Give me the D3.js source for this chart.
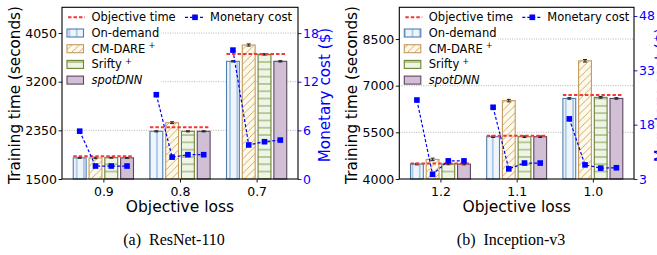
<!DOCTYPE html>
<html>
<head>
<meta charset="utf-8">
<script src="https://cdn.jsdelivr.net/npm/d3@7"></script>
<style>
  body { margin: 0; background: #fff; }
  svg { display: block; }
</style>
</head>
<body>
<svg id="chart" width="657" height="255"></svg>
<script>
// series names (trailing + is drawn as superscript)
const seriesNames = ['On-demand', 'CM-DARE+', 'Srifty+', 'spotDNN'];

// (a) ResNet-110
const lossA = ['0.9', '0.8', '0.7'];
const objTimeA = [1897, 2403, 3684];
const onDemandTimeA = [1870, 2333, 3556];
const cmDareTimeA = [1868, 2484, 3841];
const sriftyTimeA = [1872, 2333, 3678];
const spotDnnTimeA = [1870, 2333, 3556];
const onDemandCostA = [5.9, 10.4, 15.9];
const cmDareCostA = [1.6, 2.7, 4.2];
const sriftyCostA = [1.6, 3.0, 4.6];
const spotDnnCostA = [1.6, 3.0, 4.8];
const errA = [8, 10, 12];
const timeTicksA = [1500, 2350, 3200, 4050];
const costTicksA = [0, 6, 12, 18];

// (b) Inception-v3
const lossB = ['1.2', '1.1', '1.0'];
const objTimeB = [4500, 5390, 6700];
const onDemandTimeB = [4480, 5360, 6590];
const cmDareTimeB = [4630, 6520, 7800];
const sriftyTimeB = [4485, 5360, 6625];
const spotDnnTimeB = [4480, 5360, 6590];
const onDemandCostB = [24.8, 22.8, 19.6];
const cmDareCostB = [4.3, 5.8, 6.9];
const sriftyCostB = [8.0, 7.4, 6.0];
const spotDnnCostB = [8.0, 7.4, 6.1];
const errB = [25, 25, 25];
const timeTicksB = [4000, 5500, 7000, 8500];
const costTicksB = [3, 18, 33, 48];

const svg = d3.select('#chart');
svg.append('rect').attr('width', 657).attr('height', 255).attr('fill', '#fff');
const defs = svg.append('defs');
const FONT = 'DejaVu Sans, sans-serif';
const BLUE = '#0000ff';

// hatch patterns, matplotlib-like
function hatch(id, bg, stroke, kind) {
  const s = 7.3;
  const p = defs.append('pattern').attr('id', id)
    .attr('patternUnits', 'userSpaceOnUse').attr('width', s).attr('height', s);
  p.append('rect').attr('width', s).attr('height', s).attr('fill', bg);
  let d = null;
  if (kind === 'v') d = `M${s / 2},0V${s}`;
  if (kind === 'h') d = `M0,${s / 2}H${s}`;
  if (kind === 'd') d = `M0,${s}L${s},0M-1,1L1,-1M${s - 1},${s + 1}L${s + 1},${s - 1}`;
  if (d) p.append('path').attr('d', d).attr('stroke', stroke).attr('stroke-width', 0.9).attr('fill', 'none');
}
hatch('pOn', '#eef5fc', '#6f9ccb', 'v');
hatch('pCm', '#fdfaea', '#c9a066', 'd');
hatch('pSr', '#edf5e7', '#7f913e', 'h');
hatch('pSp', '#d1bfd5', null, null);

const styles = [
  { fill: 'url(#pOn)', edge: '#4f7fae' },
  { fill: 'url(#pCm)', edge: '#c39a5e' },
  { fill: 'url(#pSr)', edge: '#6f8030' },
  { fill: 'url(#pSp)', edge: '#5e4561' }
];

function label(sel, name) {
  if (name.endsWith('+')) {
    sel.text(name.slice(0, -1));
    sel.append('tspan').attr('dx', 3).attr('dy', '-0.45em').attr('font-size', '0.72em').text('+');
  } else {
    sel.text(name).attr('font-style', name === 'spotDNN' ? 'italic' : null);
  }
}

function drawPanel(p) {
  const top = 7.3, bottom = 179;
  const g = svg.append('g');
  const x = d3.scalePoint().domain(p.loss).range([p.left, p.right]).padding(0.54);
  const step = x.step();
  const bs = step * 0.206, bw = step * 0.168;
  const y = d3.scaleLinear().domain(p.timeDomain).range([bottom, top]);
  const yc = d3.scaleLinear().domain(p.costDomain).range([bottom, top]);

  // grid
  g.selectAll('.grid').data(p.timeTicks.slice(1)).join('line')
    .attr('x1', p.left).attr('x2', p.right)
    .attr('y1', d => y(d)).attr('y2', d => y(d))
    .attr('stroke', '#b5b5b5').attr('stroke-width', 1).attr('stroke-dasharray', '1,1.4');

  // bars + error bars
  p.times.forEach((vals, si) => {
    const cx = i => x(p.loss[i]) + (si - 1.5) * bs;
    g.append('g').selectAll('rect').data(vals).join('rect')
      .attr('x', (d, i) => cx(i) - bw / 2).attr('y', d => y(d))
      .attr('width', bw).attr('height', d => bottom - y(d))
      .attr('fill', styles[si].fill).attr('stroke', styles[si].edge).attr('stroke-width', 1.1);
    const eb = g.append('g').attr('stroke', '#222').attr('stroke-width', 1);
    vals.forEach((d, i) => {
      const e = p.err[i] * (si === 1 ? 1.6 : 1);
      eb.append('line').attr('x1', cx(i)).attr('x2', cx(i)).attr('y1', y(d - e)).attr('y2', y(d + e));
      eb.append('line').attr('x1', cx(i) - 2).attr('x2', cx(i) + 2).attr('y1', y(d - e)).attr('y2', y(d - e));
      eb.append('line').attr('x1', cx(i) - 2).attr('x2', cx(i) + 2).attr('y1', y(d + e)).attr('y2', y(d + e));
    });
  });

  // objective time
  g.selectAll('.obj').data(p.objTime).join('line')
    .attr('x1', (d, i) => x(p.loss[i]) - 1.5 * bs - bw / 2)
    .attr('x2', (d, i) => x(p.loss[i]) + 1.5 * bs + bw / 2)
    .attr('y1', d => y(d)).attr('y2', d => y(d))
    .attr('stroke', '#f03a3a').attr('stroke-width', 2).attr('stroke-dasharray', '3.5,2');

  // monetary cost, one dashed line per group
  const line = d3.line().x(d => d[0]).y(d => d[1]);
  p.loss.forEach((l, i) => {
    const pts = p.costs.map((c, si) => [x(l) + (si - 1.5) * bs, yc(c[i])]);
    g.append('path').attr('d', line(pts)).attr('fill', 'none')
      .attr('stroke', BLUE).attr('stroke-width', 1.2).attr('stroke-dasharray', '3,2');
    g.selectAll(null).data(pts).join('rect')
      .attr('x', d => d[0] - 2.8).attr('y', d => d[1] - 2.8)
      .attr('width', 5.6).attr('height', 5.6).attr('fill', BLUE);
  });

  // axes
  const ax = svg.append('g').attr('font-family', FONT);
  const la = ax.append('g').attr('transform', `translate(${p.left},0)`)
    .call(d3.axisLeft(y).tickValues(p.timeTicks).tickFormat(d3.format('d')).tickSize(3.5).tickPadding(1.5));
  const ra = ax.append('g').attr('transform', `translate(${p.right},0)`)
    .call(d3.axisRight(yc).tickValues(p.costTicks).tickFormat(d3.format('d')).tickSize(3.5).tickPadding(1.5));
  const ba = ax.append('g').attr('transform', `translate(0,${bottom})`)
    .call(d3.axisBottom(x).tickSize(3.5).tickPadding(4.5));
  [la, ra, ba].forEach(a => {
    a.select('.domain').remove();
    a.selectAll('text').attr('font-size', 12.5).attr('font-family', FONT).attr('fill', '#000');
    a.selectAll('line').attr('stroke', '#000').attr('stroke-width', 0.9);
  });
  ra.selectAll('text').attr('fill', BLUE);
  ra.selectAll('line').attr('stroke', BLUE);

  // frame
  svg.append('rect').attr('x', p.left).attr('y', top)
    .attr('width', p.right - p.left).attr('height', bottom - top)
    .attr('fill', 'none').attr('stroke', '#000').attr('stroke-width', 1.1);

  // axis labels
  svg.append('text').attr('transform', `translate(${p.left - 47},95) rotate(-90)`)
    .attr('text-anchor', 'middle').attr('dominant-baseline', 'central')
    .attr('font-family', FONT).attr('font-size', 15.2).text('Training time (seconds)');
  svg.append('text').attr('transform', `translate(${p.right + 27},95) rotate(-90)`)
    .attr('text-anchor', 'middle').attr('dominant-baseline', 'central')
    .attr('font-family', FONT).attr('font-size', 15.2).attr('fill', BLUE).text('Monetary cost ($)');
  svg.append('text').attr('x', (p.left + p.right) / 2).attr('y', 207)
    .attr('text-anchor', 'middle').attr('dominant-baseline', 'central')
    .attr('font-family', FONT).attr('font-size', 15.5).text('Objective loss');
  svg.append('text').attr('x', p.capX).attr('y', 239)
    .attr('text-anchor', 'middle').attr('dominant-baseline', 'central')
    .attr('font-family', 'Liberation Serif, serif').attr('font-size', 16).attr('xml:space', 'preserve')
    .text(p.caption);

  // legend
  const lg = svg.append('g').attr('font-family', FONT).attr('font-size', 11.5);
  lg.append('rect').attr('x', p.left + 1).attr('y', 24.5).attr('width', 98).attr('height', 60.5).attr('fill', '#fff');
  const rowY = i => 17.3 + i * 15.7;
  lg.append('line').attr('x1', p.left + 6).attr('x2', p.left + 23).attr('y1', rowY(0)).attr('y2', rowY(0))
    .attr('stroke', '#f03a3a').attr('stroke-width', 2).attr('stroke-dasharray', '3.5,2');
  lg.append('text').attr('x', p.left + 29.5).attr('y', rowY(0)).attr('dominant-baseline', 'central').text('Objective time');
  lg.append('line').attr('x1', p.left + 123).attr('x2', p.left + 143).attr('y1', rowY(0)).attr('y2', rowY(0))
    .attr('stroke', BLUE).attr('stroke-width', 1.2).attr('stroke-dasharray', '3,2');
  lg.append('rect').attr('x', p.left + 130.2).attr('y', rowY(0) - 2.8).attr('width', 5.6).attr('height', 5.6).attr('fill', BLUE);
  lg.append('text').attr('x', p.left + 148).attr('y', rowY(0)).attr('dominant-baseline', 'central').text('Monetary cost');
  seriesNames.forEach((n, si) => {
    const yy = rowY(si + 1);
    lg.append('rect').attr('x', p.left + 5).attr('y', yy - 4).attr('width', 16.5).attr('height', 8)
      .attr('fill', styles[si].fill).attr('stroke', styles[si].edge).attr('stroke-width', 1.1);
    label(lg.append('text').attr('x', p.left + 29.5).attr('y', yy).attr('dominant-baseline', 'central'), n);
  });
}

drawPanel({
  left: 62, right: 298, capX: 174, caption: '(a)  ResNet-110',
  loss: lossA, objTime: objTimeA, err: errA,
  times: [onDemandTimeA, cmDareTimeA, sriftyTimeA, spotDnnTimeA],
  costs: [onDemandCostA, cmDareCostA, sriftyCostA, spotDnnCostA],
  timeDomain: [1500, 4500], costDomain: [0, 21.18],
  timeTicks: timeTicksA, costTicks: costTicksA
});

drawPanel({
  left: 399.3, right: 634, capX: 511, caption: '(b)  Inception-v3',
  loss: lossB, objTime: objTimeB, err: errB,
  times: [onDemandTimeB, cmDareTimeB, sriftyTimeB, spotDnnTimeB],
  costs: [onDemandCostB, cmDareCostB, sriftyCostB, spotDnnCostB],
  timeDomain: [4000, 9520], costDomain: [3, 50.4],
  timeTicks: timeTicksB, costTicks: costTicksB
});
</script>
</body>
</html>
